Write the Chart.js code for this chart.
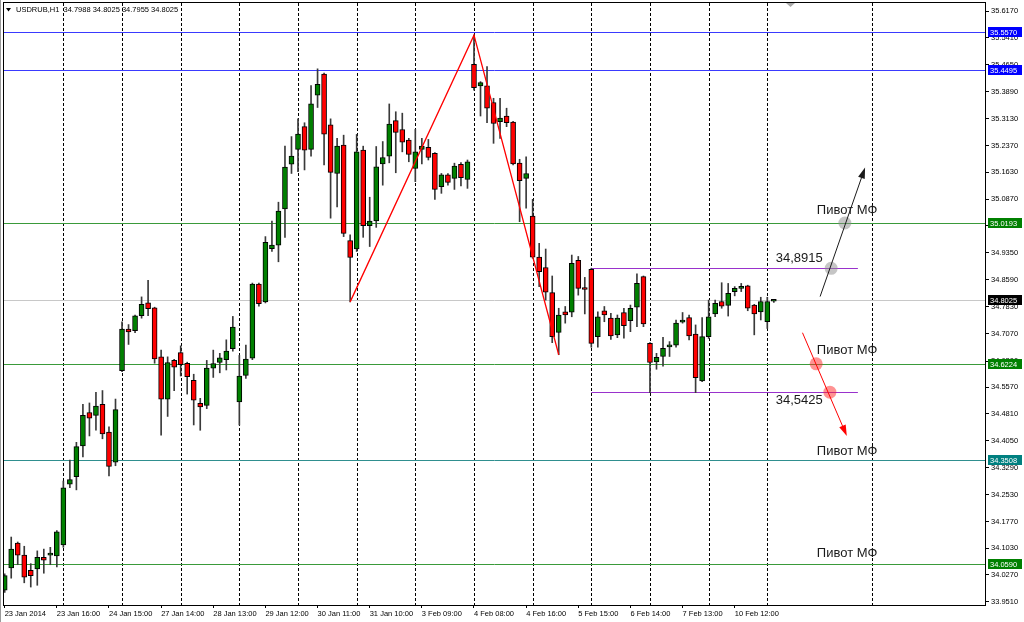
<!DOCTYPE html>
<html>
<head>
<meta charset="utf-8">
<script src="https://cdn.jsdelivr.net/npm/chart.js@4.4.1/dist/chart.umd.min.js"></script>
<style>
  html, body { margin: 0; padding: 0; background: #fff; }
  canvas { display: block; }
</style>
</head>
<body>
<canvas id="usdrubChart" width="1024" height="622"></canvas>
<script>
// USDRUB H1, 23 Jan 2014 08:00 .. 11 Feb 2014 09:00 (9 bars per session, 08:00-16:00)
const symbolName = "USDRUB,H1";

const opens = [
  33.984, 34.047, 34.117, 34.083, 34.040, 34.044, 34.077, 34.083, 34.081,
  34.112, 34.283, 34.304, 34.391, 34.485, 34.477, 34.508, 34.430, 34.345,
  34.603, 34.720, 34.716, 34.758, 34.794, 34.780, 34.642, 34.523, 34.632,
  34.654, 34.624, 34.576, 34.511, 34.505, 34.610, 34.626, 34.634, 34.665,
  34.515, 34.590, 34.638, 34.847, 34.797, 34.947, 34.957, 35.059, 35.185,
  35.227, 35.291, 35.227, 35.380, 35.439, 35.296, 35.159, 35.239, 34.970,
  34.946, 35.225, 35.012, 35.025, 35.186, 35.208, 35.308, 35.283, 35.253,
  35.173, 35.227, 35.233, 35.216, 35.122, 35.155, 35.145, 35.185, 35.142,
  35.467, 35.406, 35.406, 35.359, 35.305, 35.321, 35.304, 35.188, 35.145,
  35.039, 34.923, 34.894, 34.823, 34.711, 34.769, 34.768, 34.914, 34.834,
  34.889, 34.699, 34.772, 34.751, 34.704, 34.767, 34.744, 34.782, 34.868,
  34.680, 34.628, 34.643, 34.670, 34.675, 34.740, 34.753, 34.706, 34.574,
  34.699, 34.763, 34.798, 34.787, 34.826, 34.835, 34.842, 34.788, 34.769,
  34.741, 34.7988
];
const highs = [
  34.030, 34.134, 34.120, 34.108, 34.059, 34.095, 34.100, 34.105, 34.152,
  34.292, 34.351, 34.401, 34.508, 34.512, 34.542, 34.547, 34.445, 34.523,
  34.741, 34.733, 34.760, 34.811, 34.858, 34.782, 34.661, 34.642, 34.635,
  34.673, 34.627, 34.593, 34.525, 34.632, 34.661, 34.652, 34.690, 34.756,
  34.646, 34.675, 34.850, 34.850, 34.981, 35.025, 35.078, 35.236, 35.263,
  35.313, 35.302, 35.407, 35.454, 35.442, 35.313, 35.258, 35.267, 34.986,
  35.269, 35.236, 35.092, 35.235, 35.249, 35.355, 35.333, 35.329, 35.258,
  35.283, 35.258, 35.255, 35.218, 35.159, 35.159, 35.188, 35.190, 35.197,
  35.549, 35.418, 35.460, 35.371, 35.371, 35.343, 35.306, 35.199, 35.206,
  35.086, 34.962, 34.946, 34.870, 34.779, 34.784, 34.929, 34.925, 34.866,
  34.892, 34.769, 34.784, 34.765, 34.760, 34.779, 34.788, 34.876, 34.870,
  34.682, 34.652, 34.697, 34.685, 34.746, 34.767, 34.760, 34.732, 34.753,
  34.802, 34.802, 34.851, 34.849, 34.840, 34.849, 34.844, 34.790, 34.810,
  34.810, 34.8025
];
const lows = [
  33.978, 34.018, 34.056, 34.005, 33.993, 33.998, 34.032, 34.056, 34.050,
  34.105, 34.273, 34.267, 34.360, 34.419, 34.435, 34.411, 34.306, 34.335,
  34.600, 34.677, 34.710, 34.751, 34.758, 34.624, 34.421, 34.474, 34.547,
  34.588, 34.537, 34.450, 34.435, 34.496, 34.584, 34.597, 34.605, 34.658,
  34.450, 34.581, 34.634, 34.785, 34.794, 34.939, 34.910, 34.979, 35.159,
  35.164, 35.169, 35.208, 35.345, 35.183, 35.033, 35.065, 34.981, 34.797,
  34.939, 34.979, 34.953, 35.007, 35.126, 35.189, 35.161, 35.220, 35.192,
  35.136, 35.186, 35.197, 35.086, 35.103, 35.126, 35.114, 35.124, 35.117,
  35.394, 35.321, 35.302, 35.244, 35.258, 35.291, 35.183, 35.023, 35.061,
  34.920, 34.840, 34.802, 34.682, 34.648, 34.737, 34.755, 34.816, 34.763,
  34.669, 34.669, 34.741, 34.691, 34.696, 34.695, 34.713, 34.727, 34.727,
  34.541, 34.607, 34.616, 34.643, 34.669, 34.737, 34.690, 34.541, 34.572,
  34.694, 34.755, 34.779, 34.757, 34.814, 34.826, 34.772, 34.704, 34.746,
  34.722, 34.7955
];
const closes = [
  34.025, 34.100, 34.083, 34.021, 34.025, 34.077, 34.069, 34.085, 34.149,
  34.273, 34.296, 34.389, 34.477, 34.469, 34.503, 34.425, 34.333, 34.493,
  34.720, 34.712, 34.758, 34.790, 34.778, 34.636, 34.523, 34.626, 34.613,
  34.620, 34.586, 34.520, 34.501, 34.610, 34.623, 34.639, 34.658, 34.726,
  34.588, 34.636, 34.847, 34.792, 34.965, 34.957, 35.053, 35.177, 35.208,
  35.270, 35.225, 35.355, 35.410, 35.270, 35.162, 35.236, 34.990, 34.922,
  35.220, 35.012, 35.025, 35.178, 35.204, 35.298, 35.275, 35.247, 35.213,
  35.220, 35.236, 35.204, 35.114, 35.155, 35.134, 35.180, 35.147, 35.192,
  35.401, 35.415, 35.343, 35.300, 35.315, 35.302, 35.186, 35.139, 35.159,
  34.923, 34.882, 34.824, 34.699, 34.760, 34.760, 34.906, 34.835, 34.832,
  34.680, 34.755, 34.760, 34.701, 34.751, 34.730, 34.779, 34.849, 34.735,
  34.626, 34.641, 34.666, 34.672, 34.737, 34.746, 34.701, 34.583, 34.699,
  34.755, 34.793, 34.785, 34.821, 34.835, 34.837, 34.779, 34.763, 34.798,
  34.798, 34.8025
];

// time axis labels, one every 8 bars
const tickLabels = [
  "23 Jan 2014", "23 Jan 16:00", "24 Jan 15:00", "27 Jan 14:00", "28 Jan 13:00",
  "29 Jan 12:00", "30 Jan 11:00", "31 Jan 10:00", "3 Feb 09:00", "4 Feb 08:00",
  "4 Feb 16:00", "5 Feb 15:00", "6 Feb 14:00", "7 Feb 13:00", "10 Feb 12:00"
];
const barsPerLabel = 8;

// price axis labels
const priceTicks = [
  35.6170, 35.5410, 35.4650, 35.3890, 35.3130, 35.2370, 35.1630, 35.0870,
  35.0110, 34.9350, 34.8590, 34.7830, 34.7070, 34.6300, 34.5570, 34.4810,
  34.4050, 34.3290, 34.2530, 34.1770, 34.1030, 34.0270, 33.9510
];

// period separators (bar index of each new session) + one extra vertical line
const separatorBars = [9, 18, 27, 36, 45, 54, 63, 72, 81, 90, 99, 108, 117, 133];

// horizontal levels
const blueLevels = [35.5570, 35.4495];
const greenLevels = [35.0193, 34.6224, 34.0590];
const tealLevels = [34.3508];
const rangeLevels = [34.8915, 34.5425];
const rangeFrom = 90, rangeTo = 130.9;

// zigzag through swing low / high / low
const zigzagBars = [53, 72, 85];
const zigzagPrices = [lows[53], highs[72], lows[85]];

// scenario arrows: [fromBar, fromPrice, toBar, toPrice]
const upArrow = [125.1, 34.812, 132.0, 35.176];
const downArrow = [122.4, 34.710, 129.2, 34.419];
const upMarks = [[128.9, 35.0193], [126.8, 34.8915]];
const downMarks = [[124.5, 34.6224], [126.6, 34.5425]];
const pivotText = "Пивот МФ";
const pivotLabels = [[124.6, 35.056], [124.6, 34.661], [124.6, 34.375], [124.6, 34.089]];
const rangeTexts = [["34,8915", 118.3, 34.920], ["34,5425", 118.3, 34.518]];

const smallFont = "7.5px 'Liberation Sans', Arial, sans-serif";
const textFont = "13px 'Liberation Sans', Arial, sans-serif";

const bodies = opens.map((o, i) => ({ x: i, y: [o, closes[i]] }));
const wicks = highs.map((h, i) => ({ x: i, y: [lows[i], h] }));
const bodyColors = opens.map((o, i) => closes[i] >= o ? "#008000" : "#ff0000");

function hLine(ctx, area, y, color) {
    ctx.strokeStyle = color;
    ctx.lineWidth = 1;
    ctx.beginPath();
    ctx.moveTo(area.left, Math.round(y) + 0.5);
    ctx.lineTo(area.right, Math.round(y) + 0.5);
    ctx.stroke();
}

function drawArrow(ctx, x0, y0, x1, y1, color) {
    let a = Math.atan2(y1 - y0, x1 - x0);
    ctx.strokeStyle = color;
    ctx.fillStyle = color;
    ctx.lineWidth = 1;
    ctx.beginPath();
    ctx.moveTo(x0, y0);
    ctx.lineTo(x1 - 8 * Math.cos(a), y1 - 8 * Math.sin(a));
    ctx.stroke();
    ctx.beginPath();
    ctx.moveTo(x1, y1);
    ctx.lineTo(x1 - 11 * Math.cos(a) + 3.5 * Math.sin(a), y1 - 11 * Math.sin(a) - 3.5 * Math.cos(a));
    ctx.lineTo(x1 - 11 * Math.cos(a) - 3.5 * Math.sin(a), y1 - 11 * Math.sin(a) + 3.5 * Math.cos(a));
    ctx.closePath();
    ctx.fill();
}

function priceBox(ctx, y, value, bg) {
    ctx.fillStyle = bg;
    ctx.fillRect(988, Math.round(y) - 5, 34, 10);
    ctx.fillStyle = "#fff";
    ctx.font = smallFont;
    ctx.textAlign = "left";
    ctx.textBaseline = "middle";
    ctx.fillText(value.toFixed(4), 990, Math.round(y) + 0.5);
}

const overlay = {
    id: "overlay",
    beforeDatasetsDraw(chart) {
        let ctx = chart.ctx, area = chart.chartArea;
        let xs = chart.scales.x, ys = chart.scales.y;
        ctx.save();
        ctx.beginPath();
        ctx.rect(area.left, area.top, area.right - area.left, area.bottom - area.top);
        ctx.clip();

        // session separators
        ctx.strokeStyle = "#000";
        ctx.lineWidth = 1;
        ctx.setLineDash([3, 2]);
        separatorBars.forEach(function (b) {
            let x = Math.round(xs.getPixelForValue(b)) + 0.5;
            ctx.beginPath();
            ctx.moveTo(x, area.top);
            ctx.lineTo(x, area.bottom);
            ctx.stroke();
        });
        ctx.setLineDash([]);

        hLine(ctx, area, ys.getPixelForValue(closes[closes.length - 1]), "#c8c8c8");
        blueLevels.forEach(p => hLine(ctx, area, ys.getPixelForValue(p), "#3a3aff"));
        greenLevels.forEach(p => hLine(ctx, area, ys.getPixelForValue(p), "#3a9a3a"));
        tealLevels.forEach(p => hLine(ctx, area, ys.getPixelForValue(p), "#2f8f8f"));

        // trading range lines
        ctx.strokeStyle = "#9932cc";
        rangeLevels.forEach(function (p) {
            let y = Math.round(ys.getPixelForValue(p)) + 0.5;
            ctx.beginPath();
            ctx.moveTo(xs.getPixelForValue(rangeFrom), y);
            ctx.lineTo(xs.getPixelForValue(rangeTo), y);
            ctx.stroke();
        });
        ctx.restore();
    },
    afterDatasetsDraw(chart) {
        let ctx = chart.ctx;
        let xs = chart.scales.x, ys = chart.scales.y;
        ctx.save();

        // zigzag
        ctx.strokeStyle = "#ff0000";
        ctx.lineWidth = 1.3;
        ctx.beginPath();
        zigzagBars.forEach(function (b, k) {
            let x = xs.getPixelForValue(b), y = ys.getPixelForValue(zigzagPrices[k]);
            if (k === 0) ctx.moveTo(x, y); else ctx.lineTo(x, y);
        });
        ctx.stroke();

        // marks on the levels
        upMarks.forEach(function (m) {
            ctx.fillStyle = "rgba(140,140,140,0.5)";
            ctx.beginPath();
            ctx.arc(xs.getPixelForValue(m[0]), ys.getPixelForValue(m[1]), 6.5, 0, Math.PI * 2);
            ctx.fill();
        });
        downMarks.forEach(function (m) {
            ctx.fillStyle = "rgba(255,40,40,0.5)";
            ctx.beginPath();
            ctx.arc(xs.getPixelForValue(m[0]), ys.getPixelForValue(m[1]), 6.5, 0, Math.PI * 2);
            ctx.fill();
        });

        drawArrow(ctx, xs.getPixelForValue(upArrow[0]), ys.getPixelForValue(upArrow[1]),
            xs.getPixelForValue(upArrow[2]), ys.getPixelForValue(upArrow[3]), "#1a1a1a");
        drawArrow(ctx, xs.getPixelForValue(downArrow[0]), ys.getPixelForValue(downArrow[1]),
            xs.getPixelForValue(downArrow[2]), ys.getPixelForValue(downArrow[3]), "#ff0000");

        // texts
        ctx.fillStyle = "#1a1a1a";
        ctx.font = textFont;
        ctx.textAlign = "left";
        ctx.textBaseline = "middle";
        pivotLabels.forEach(function (p) {
            ctx.fillText(pivotText, xs.getPixelForValue(p[0]), ys.getPixelForValue(p[1]));
        });
        rangeTexts.forEach(function (t) {
            ctx.fillText(t[0], xs.getPixelForValue(t[1]), ys.getPixelForValue(t[2]));
        });
        ctx.restore();
    },
    afterDraw(chart) {
        let ctx = chart.ctx, area = chart.chartArea;
        let ys = chart.scales.y;
        ctx.save();

        // frame
        ctx.strokeStyle = "#000";
        ctx.lineWidth = 1;
        ctx.strokeRect(area.left - 0.5, area.top - 0.5, area.right - area.left + 1, area.bottom - area.top + 1);
        ctx.strokeStyle = "#9a9a9a";
        ctx.beginPath();
        ctx.moveTo(0.5, 0);
        ctx.lineTo(0.5, 622);
        ctx.stroke();

        // price boxes on the axis
        blueLevels.forEach(p => priceBox(ctx, ys.getPixelForValue(p), p, "#0000ff"));
        greenLevels.forEach(p => priceBox(ctx, ys.getPixelForValue(p), p, "#008000"));
        tealLevels.forEach(p => priceBox(ctx, ys.getPixelForValue(p), p, "#008080"));
        let last = closes[closes.length - 1];
        priceBox(ctx, ys.getPixelForValue(last), last, "#000");

        // header
        ctx.fillStyle = "#000";
        ctx.beginPath();
        ctx.moveTo(6, 8);
        ctx.lineTo(11, 8);
        ctx.lineTo(8.5, 11.5);
        ctx.closePath();
        ctx.fill();
        let n = opens.length - 1;
        let header = symbolName + "  " + [opens[n], highs[n], lows[n], closes[n]].map(v => v.toFixed(4)).join(" ");
        ctx.font = smallFont;
        ctx.textAlign = "left";
        ctx.textBaseline = "middle";
        ctx.fillText(header, 16, 10);

        // chart shift marker
        ctx.fillStyle = "#a8a8a8";
        ctx.beginPath();
        ctx.moveTo(786, area.top);
        ctx.lineTo(795, area.top);
        ctx.lineTo(790.5, area.top + 4);
        ctx.closePath();
        ctx.fill();
        ctx.restore();
    }
};

new Chart(document.getElementById("usdrubChart"), {
    type: "bar",
    data: {
        datasets: [
            {
                data: bodies,
                backgroundColor: bodyColors,
                borderColor: "#000",
                borderWidth: 1,
                borderSkipped: false,
                barThickness: 5,
                minBarLength: 2,
                grouped: false,
                order: 1
            },
            {
                data: wicks,
                backgroundColor: "#3a3a3a",
                borderWidth: 0,
                barThickness: 1,
                grouped: false,
                order: 2
            }
        ]
    },
    options: {
        responsive: false,
        animation: false,
        devicePixelRatio: 1,
        layout: { padding: { left: 4, top: 3, right: 0, bottom: 0 } },
        plugins: {
            legend: { display: false },
            tooltip: { enabled: false }
        },
        scales: {
            x: {
                type: "linear",
                min: -0.107,
                max: 150.4,
                offset: false,
                afterBuildTicks: function (s) {
                    s.ticks = tickLabels.map((_, k) => ({ value: k * barsPerLabel }));
                },
                afterFit: function (s) {
                    s.height = 17;
                    s.paddingLeft = 0;
                    s.paddingRight = 0;
                },
                grid: { drawOnChartArea: false, offset: false, tickLength: 3, color: "#000" },
                border: { display: false },
                ticks: {
                    autoSkip: false,
                    maxRotation: 0,
                    align: "start",
                    padding: 1,
                    color: "#000",
                    font: { family: "'Liberation Sans', Arial, sans-serif", size: 7.5 },
                    callback: (v, k) => tickLabels[k]
                }
            },
            y: {
                type: "linear",
                position: "right",
                min: 33.9424,
                max: 35.6396,
                afterBuildTicks: function (s) {
                    s.ticks = priceTicks.map(v => ({ value: v }));
                },
                afterFit: function (s) {
                    s.width = 39;
                    s.paddingTop = 0;
                    s.paddingBottom = 0;
                },
                grid: { drawOnChartArea: false, tickLength: 4, color: "#000" },
                border: { display: false },
                ticks: {
                    autoSkip: false,
                    padding: 2,
                    color: "#000",
                    font: { family: "'Liberation Sans', Arial, sans-serif", size: 7.5 },
                    callback: v => v.toFixed(4)
                }
            }
        }
    },
    plugins: [overlay]
});
</script>
</body>
</html>
